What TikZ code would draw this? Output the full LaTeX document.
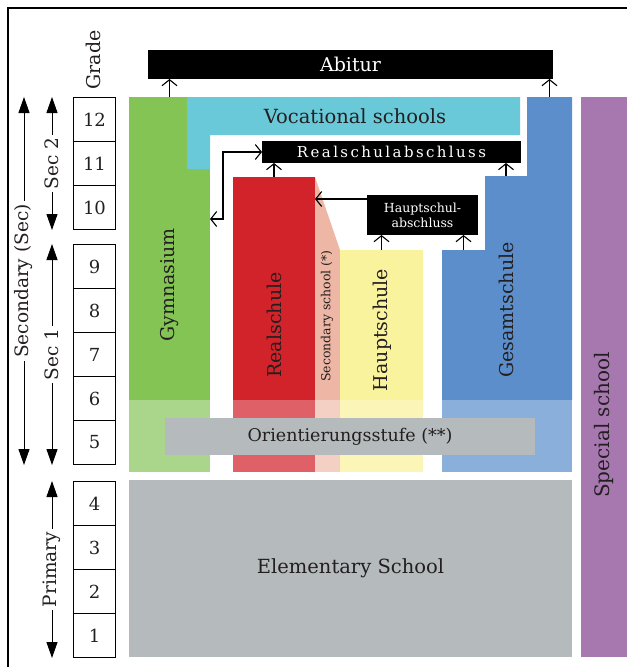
\documentclass[tikz,border=0pt]{standalone}
\usepackage{fontspec}
\setmainfont{DejaVu Serif}
\usetikzlibrary{arrows.meta}
\definecolor{gymgreen}{HTML}{84C454}
\definecolor{gymlight}{HTML}{A9D68A}
\definecolor{vocblue}{HTML}{69C9D9}
\definecolor{realred}{HTML}{D2232A}
\definecolor{reallight}{HTML}{E06067}
\definecolor{secpink}{HTML}{EEB7A5}
\definecolor{seclight}{HTML}{F4CFC3}
\definecolor{hauptyellow}{HTML}{FAF39E}
\definecolor{hauptlight}{HTML}{FBF6B8}
\definecolor{gesblue}{HTML}{5B8ECB}
\definecolor{geslight}{HTML}{8AAFDA}
\definecolor{elemgrey}{HTML}{B5BABC}
\definecolor{specpurple}{HTML}{A777B0}
\definecolor{ink}{HTML}{231F20}
\tikzset{
  chart/.style={x=1pt, y=-1pt, text=ink},
  block/.style={inner sep=0pt, outer sep=0pt, anchor=north west},
  gradebox/.style={draw, line width=1pt, inner sep=0pt, anchor=north west,
    minimum width=42pt, minimum height=44pt, font=\fontsize{18}{18}\selectfont},
  exambar/.style={block, fill=black, text=white},
  vlabel/.style={rotate=90, inner sep=0pt, font=\fontsize{19}{19}\selectfont},
  uparrow/.style={line width=1.1pt, -{Straight Barb[length=6pt,width=15pt]}},
  bothbarb/.style={line width=1.1pt,
    {Straight Barb[length=6pt,width=15pt]}-{Straight Barb[length=6pt,width=15pt]}},
  span/.style={line width=1pt,
    {Triangle[length=16pt,width=11pt]}-{Triangle[length=16pt,width=11pt]}},
  spanlabel/.style={fill=white, rotate=90, inner sep=3pt,
    font=\fontsize{18.5}{18.5}\selectfont},
}
\newcommand{\schoolblock}[6]{\node[block, fill=#2, minimum width=#5pt,
  minimum height=#6pt] (#1) at (#3,#4) {};}

\begin{document}
\begin{tikzpicture}[chart]
  \useasboundingbox (0,0) rectangle (627,667);
  % frame
  \draw[line width=2.5pt] (8,667) -- (8,8) -- (627,8);
  % grade column
  \node[vlabel] (grade) at (93,60) {Grade};
  \foreach \g/\top in {12/97,11/141,10/185,9/244,8/288,7/332,6/376,5/420,
                       4/481,3/525,2/569,1/613}
    \node[gradebox] (g\g) at (73,\top) {\g};
  \draw[span] ([xshift=-21pt]g12.north west) -- ([xshift=-21pt]g10.south west)
    node[midway, spanlabel] (sec2) {Sec 2};
  \draw[span] ([xshift=-21pt]g9.north west) -- ([xshift=-21pt]g5.south west)
    node[midway, spanlabel] (sec1) {Sec 1};
  \draw[span] ([xshift=-21pt]g4.north west) -- ([xshift=-21pt]g1.south west)
    node[midway, spanlabel] (prim) {Primary};
  \draw[span] ([xshift=-49pt]g12.north west) -- ([xshift=-49pt]g5.south west)
    node[midway, spanlabel] (secall) {Secondary (Sec)};
  % school blocks, grades 5-12
  \schoolblock{gym}{gymgreen}{129}{97}{81}{303}
  \schoolblock{gymlow}{gymlight}{129}{400}{81}{72}
  \fill[vocblue] (187,97) -- (520,97) -- (520,135) -- (210,135)
    -- (210,169) -- (187,169) -- cycle;
  \schoolblock{real}{realred}{233}{177}{82}{223}
  \schoolblock{reallow}{reallight}{233}{400}{82}{72}
  \fill[secpink] (315,177) -- (340,250) -- (340,400) -- (315,400) -- cycle;
  \schoolblock{seclow}{seclight}{315}{400}{25}{72}
  \schoolblock{haupt}{hauptyellow}{340}{250}{83}{150}
  \schoolblock{hauptlow}{hauptlight}{340}{400}{83}{72}
  \fill[gesblue] (442,400) -- (442,250) -- (485,250) -- (485,176)
    -- (527,176) -- (527,97) -- (572,97) -- (572,400) -- cycle;
  \schoolblock{geslow}{geslight}{442}{400}{130}{72}
  \coordinate (gesA) at (463.5,250);
  \coordinate (gesB) at (506,176);
  \coordinate (gesC) at (549.5,97);
  \node[block, fill=elemgrey, minimum width=370pt, minimum height=37pt,
    font=\fontsize{17.5}{17.5}\selectfont] (orient) at (165,418)
    {Orientierungsstufe (**)};
  \node[block, fill=elemgrey, minimum width=443pt, minimum height=177pt,
    font=\fontsize{19.5}{19.5}\selectfont] (elem) at (129,480) {Elementary School};
  \node[block, fill=specpurple, minimum width=46pt, minimum height=560pt]
    (special) at (581,97) {};
  % block labels
  \node[font=\fontsize{19.5}{19.5}\selectfont] (voctext) at (355,116)
    {Vocational schools};
  \node[vlabel] (gymtext) at (170,285) {Gymnasium};
  \node[vlabel] (realtext) at (274,325) {Realschule};
  \node[vlabel, font=\fontsize{12.5}{12.5}\selectfont] (sectext) at (327,316)
    {Secondary school (*)};
  \node[vlabel] (haupttext) at (382,330) {Hauptschule};
  \node[vlabel] (gestext) at (506,310) {Gesamtschule};
  \node[vlabel, font=\fontsize{20}{20}\selectfont] (spectext) at (604,425)
    {Special school};
  % leaving certificates
  \node[exambar, minimum width=405pt, minimum height=29pt,
    font=\fontsize{19}{19}\selectfont] (abitur) at (148,50) {Abitur};
  \node[exambar, minimum width=259pt, minimum height=22pt,
    font=\fontsize{15}{15}\selectfont\addfontfeature{LetterSpace=16}]
    (rsa) at (262,141) {Realschulabschluss};
  \node[exambar, minimum width=111pt, minimum height=40pt, align=center,
    font=\fontsize{12.5}{15}\selectfont] (hsa) at (367,195)
    {Hauptschul-\\abschluss};
  % transitions
  \draw[uparrow] (gym.north) -- (gym.north |- abitur.south);
  \draw[uparrow] (gesC) -- (gesC |- abitur.south);
  \draw[uparrow] (real.north) -- (real.north |- rsa.south);
  \draw[uparrow] (gesB) -- (gesB |- rsa.south);
  \draw[uparrow] (haupt.north) -- (haupt.north |- hsa.south);
  \draw[uparrow] (gesA) -- (gesA |- hsa.south);
  \coordinate (hsaout) at ([yshift=-4pt]hsa.north west);
  \draw[uparrow] (hsaout) -- (hsaout -| real.east);
  \coordinate (brktop) at (223,152);
  \coordinate (brkbot) at (223,219);
  \draw[bothbarb] (rsa.west) -- (brktop) -- (brkbot) -- (brkbot -| gym.east);
\end{tikzpicture}
\end{document}
